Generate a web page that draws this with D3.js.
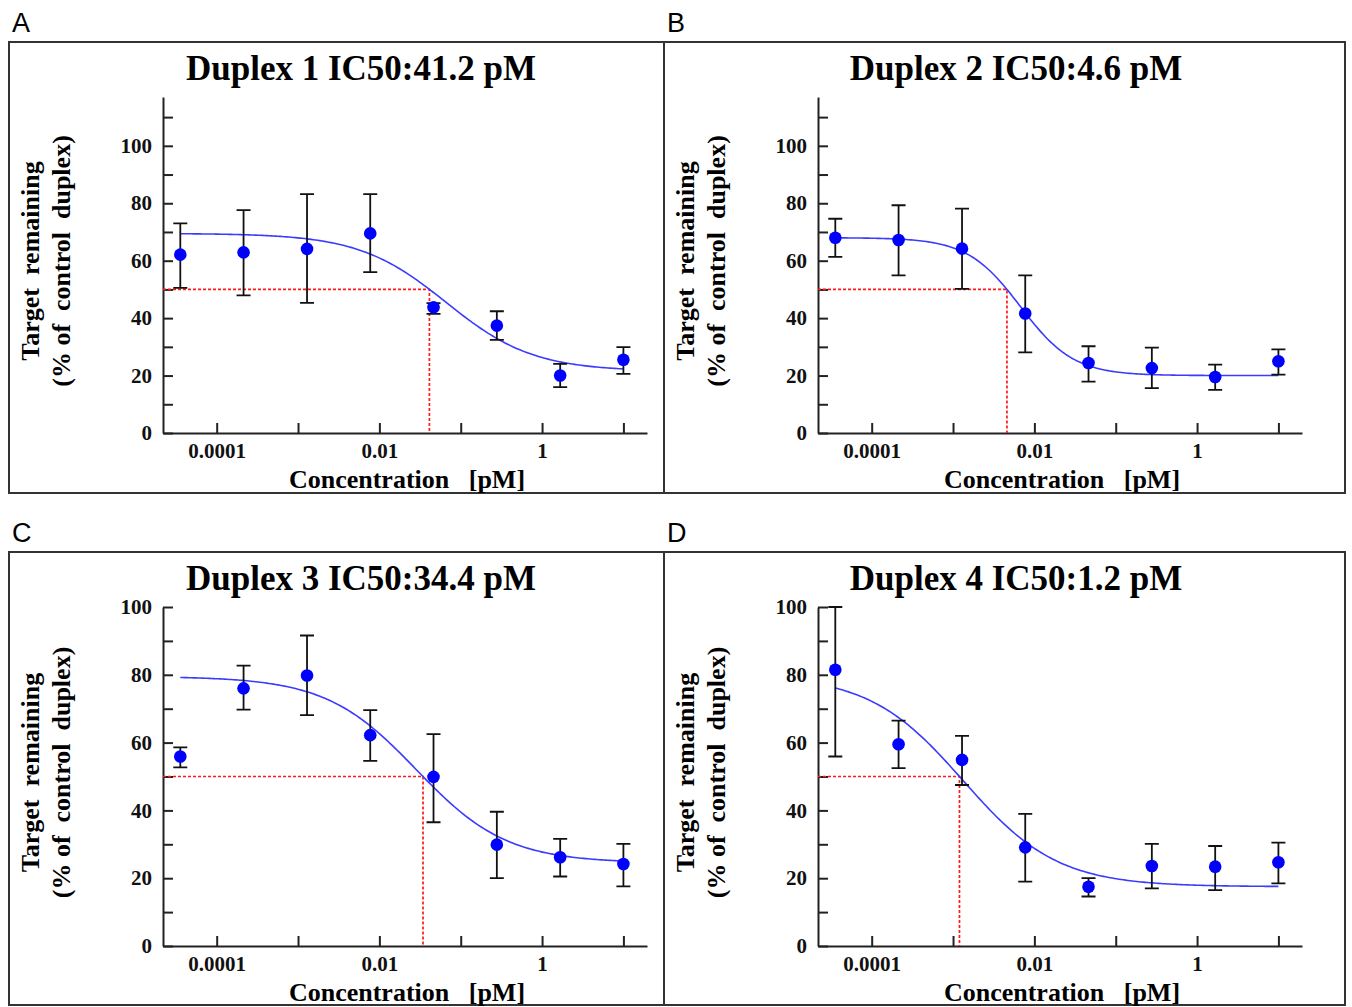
<!DOCTYPE html>
<html>
<head>
<meta charset="utf-8">
<script src="https://cdn.jsdelivr.net/npm/d3@7"></script>
<style>
  body { margin: 0; background: #fff; }
  svg { display: block; }
  .serif { font-family: "Liberation Serif", "Times New Roman", serif; font-weight: bold; }
</style>
</head>
<body>
<svg id="chart" width="1352" height="1007"></svg>
<script>
// concentrations (axis units), 6-fold dilution series
const concentrations = [0.0000357, 0.000214, 0.00129, 0.00772, 0.0463, 0.278, 1.67, 10];

// mean and error-bar ends for each duplex
const duplex1Mean  = [62.1, 62.9, 64.1, 69.5, 43.8, 37.4, 20.0, 25.5];
const duplex1Upper = [73.0, 77.6, 83.2, 83.2, 45.2, 42.4, 24.1, 29.9];
const duplex1Lower = [50.5, 47.9, 45.3, 56.0, 41.5, 32.4, 16.0, 20.6];

const duplex2Mean  = [68.0, 67.2, 64.2, 41.6, 24.4, 22.6, 19.5, 25.0];
const duplex2Upper = [74.6, 79.3, 78.1, 54.9, 30.2, 29.7, 23.8, 29.1];
const duplex2Lower = [61.3, 54.9, 50.2, 28.1, 17.9, 15.6, 15.0, 20.3];

const duplex3Mean  = [55.9, 76.0, 79.8, 62.2, 49.9, 29.9, 26.2, 24.2];
const duplex3Upper = [58.6, 82.7, 91.6, 69.6, 62.5, 39.6, 31.6, 30.1];
const duplex3Lower = [52.7, 69.7, 68.1, 54.6, 36.5, 20.0, 20.5, 17.6];

const duplex4Mean  = [81.5, 59.5, 54.9, 29.1, 17.5, 23.6, 23.4, 24.7];
const duplex4Upper = [100.0, 66.5, 62.0, 39.0, 20.0, 30.1, 29.5, 30.5];
const duplex4Lower = [55.9, 52.5, 47.5, 19.0, 14.6, 17.0, 16.5, 18.5];

// fitted 4-parameter logistic for each duplex
const fitTop    = [69.5, 68.0, 79.5, 80.0];
const fitBottom = [21.5, 20.0, 24.5, 17.5];
const fitEC     = [0.066, 0.00675, 0.0285, 0.001335];
const fitHill   = [0.81, 1.33, 0.78, 0.75];

// IC50 labels and the matching position on the x axis
const ic50Labels = ["41.2", "4.6", "34.4", "1.2"];
const ic50Pos    = [0.0412, 0.0046, 0.0344, 0.0012];

const panelLetters = ["A", "B", "C", "D"];
const yMaxes = [117, 117, 100, 100];

const xTickValues = [1e-4, 1e-3, 1e-2, 1e-1, 1, 10];
const xTickLabels = { 1e-4: "0.0001", 1e-2: "0.01", 1: "1" };

const means  = [duplex1Mean, duplex2Mean, duplex3Mean, duplex4Mean];
const uppers = [duplex1Upper, duplex2Upper, duplex3Upper, duplex4Upper];
const lowers = [duplex1Lower, duplex2Lower, duplex3Lower, duplex4Lower];

const svg = d3.select("#chart");

// panel boxes
const boxes = [
  { x0: 9,   y0: 42,  x1: 664,  y1: 493 },
  { x0: 664, y0: 42,  x1: 1345, y1: 493 },
  { x0: 9,   y0: 552, x1: 664,  y1: 1005 },
  { x0: 664, y0: 552, x1: 1345, y1: 1005 }
];

boxes.forEach((b, i) => {
  const yTop = i < 2 ? 97 : 607;
  const yBottom = i < 2 ? 433 : 946;
  const plotLeft = b.x0 + 154;
  const plotRight = plotLeft + 484;

  svg.append("rect")
    .attr("x", b.x0).attr("y", b.y0)
    .attr("width", b.x1 - b.x0).attr("height", b.y1 - b.y0)
    .attr("fill", "none").attr("stroke", "#333").attr("stroke-width", 2);

  svg.append("text")
    .attr("x", b.x0 + 3).attr("y", b.y0 - 10)
    .attr("font-family", "Liberation Sans, Arial, sans-serif")
    .attr("font-size", 27)
    .text(panelLetters[i]);

  const x = d3.scaleLog()
    .domain([Math.pow(10, -4.66), Math.pow(10, 1.29)])
    .range([plotLeft, plotRight]);
  const y = d3.scaleLinear()
    .domain([0, yMaxes[i]])
    .range([yBottom, yTop]);

  // title
  svg.append("text")
    .attr("class", "serif")
    .attr("x", b.x0 + 352).attr("y", b.y0 + 38)
    .attr("text-anchor", "middle")
    .attr("font-size", 35)
    .text(`Duplex ${i + 1} IC50:${ic50Labels[i]} pM`);

  // axes
  const yTicks = d3.range(0, yMaxes[i] + 0.5, 10);
  const yAxis = d3.axisLeft(y)
    .tickValues(yTicks)
    .tickSize(-10).tickSizeOuter(0).tickPadding(11)
    .tickFormat(d => d % 20 === 0 ? d : "");
  const gy = svg.append("g").attr("transform", `translate(${plotLeft},0)`).call(yAxis);

  const xAxis = d3.axisBottom(x)
    .tickValues(xTickValues)
    .tickSize(-10).tickSizeOuter(0).tickPadding(10)
    .tickFormat(d => xTickLabels[d] || "");
  const gx = svg.append("g").attr("transform", `translate(0,${yBottom})`).call(xAxis);

  [gx, gy].forEach(g => {
    g.select(".domain").attr("stroke", "#222").attr("stroke-width", 2);
    g.selectAll(".tick line").attr("stroke", "#222").attr("stroke-width", 2);
    g.selectAll(".tick text")
      .attr("class", "serif")
      .attr("font-size", 21)
      .attr("fill", "#111");
  });

  // axis titles
  svg.append("text")
    .attr("class", "serif")
    .attr("x", (plotLeft + plotRight) / 2 + 2).attr("y", yBottom + 55)
    .attr("text-anchor", "middle")
    .attr("font-size", 26)
    .style("white-space", "pre")
    .text("Concentration   [pM]");

  const yMid = (yTop + yBottom) / 2 - 4;
  [["Target  remaining", 30], ["(% of  control  duplex)", 61]].forEach(([t, dx]) => {
    svg.append("text")
      .attr("class", "serif")
      .attr("transform", `translate(${b.x0 + dx},${yMid}) rotate(-90)`)
      .attr("text-anchor", "middle")
      .attr("font-size", 26)
      .style("white-space", "pre")
      .text(t);
  });

  // IC50 guide
  svg.append("path")
    .attr("d", `M${plotLeft},${y(50)}H${x(ic50Pos[i])}V${yBottom}`)
    .attr("fill", "none")
    .attr("stroke", "#ff1a1a")
    .attr("stroke-width", 1.7)
    .attr("stroke-dasharray", "3,2");

  // fitted curve
  const logMin = Math.log10(concentrations[0]);
  const logMax = Math.log10(concentrations[concentrations.length - 1]);
  const curve = d3.range(0, 201).map(k => {
    const c = Math.pow(10, logMin + (logMax - logMin) * k / 200);
    const v = fitBottom[i] + (fitTop[i] - fitBottom[i]) / (1 + Math.pow(c / fitEC[i], fitHill[i]));
    return [c, v];
  });
  svg.append("path")
    .datum(curve)
    .attr("d", d3.line().x(d => x(d[0])).y(d => y(d[1])))
    .attr("fill", "none")
    .attr("stroke", "#3b3bff")
    .attr("stroke-width", 1.6);

  // error bars
  const rows = concentrations.map((c, j) => ({ c, m: means[i][j], hi: uppers[i][j], lo: lowers[i][j] }));
  const eb = svg.append("g").attr("stroke", "#111").attr("stroke-width", 1.8).attr("fill", "none");
  eb.selectAll("path")
    .data(rows)
    .join("path")
    .attr("d", d => {
      const cx = x(d.c);
      return `M${cx},${y(d.hi)}V${y(d.lo)}M${cx - 7},${y(d.hi)}H${cx + 7}M${cx - 7},${y(d.lo)}H${cx + 7}`;
    });

  // points
  svg.append("g").selectAll("circle")
    .data(rows)
    .join("circle")
    .attr("cx", d => x(d.c))
    .attr("cy", d => y(d.m))
    .attr("r", 6.3)
    .attr("fill", "#0000ff");
});
</script>
</body>
</html>
